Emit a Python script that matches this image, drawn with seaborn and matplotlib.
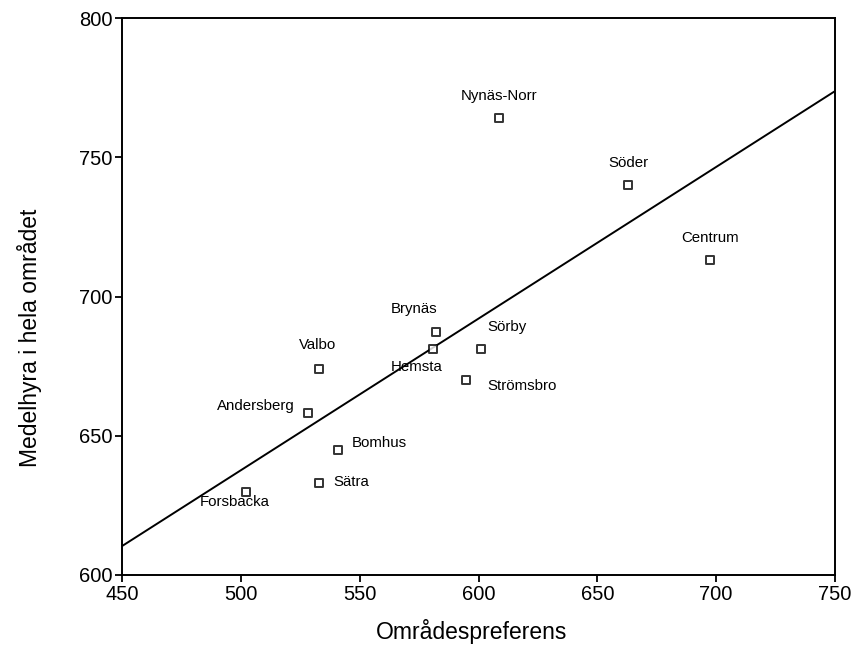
import matplotlib
matplotlib.use("Agg")
import matplotlib.pyplot as plt
import seaborn as sns
import pandas as pd

omraden = ["Nynäs-Norr", "Söder", "Centrum", "Brynäs", "Hemsta", "Sörby",
           "Strömsbro", "Valbo", "Andersberg", "Bomhus", "Sätra", "Forsbacka"]
preferens = [608.6, 662.9, 697.4, 582.1, 580.8, 601.0, 594.7, 532.9, 528.3, 540.9, 532.9, 502.2]
medelhyra = [764.1, 740.0, 713.1, 687.3, 681.1, 681.1, 670.0, 674.0, 658.2, 644.9, 633.0, 629.8]
x_ticks = [450, 500, 550, 600, 650, 700, 750]
y_ticks = [600, 650, 700, 750, 800]

# label offsets in pixels (dx, dy, ha)
label_pos = {
    "Nynäs-Norr": (0, 22, "center"),
    "Söder": (0, 22, "center"),
    "Centrum": (0, 22, "center"),
    "Brynäs": (-22, 23, "center"),
    "Hemsta": (-16, -18, "center"),
    "Sörby": (6, 22, "left"),
    "Strömsbro": (21, -6, "left"),
    "Valbo": (-1, 24, "center"),
    "Andersberg": (-13, 7, "right"),
    "Bomhus": (14, 7, "left"),
    "Sätra": (14, 1, "left"),
    "Forsbacka": (-11, -10, "center"),
}

df = pd.DataFrame({"omrade": omraden, "x": preferens, "y": medelhyra})

sns.set_style("white")
plt.rcParams["font.family"] = ["Liberation Sans", "DejaVu Sans"]

fig = plt.figure(figsize=(8.54, 6.5), dpi=100)
ax = fig.add_axes([122 / 854, 1 - 575 / 650, (835 - 122) / 854, (575 - 18) / 650])
ax.set_xlim(450, 750)
ax.set_ylim(600, 800)

sns.regplot(data=df, x="x", y="y", ax=ax, ci=None, truncate=False,
            marker="s",
            scatter_kws=dict(s=30, facecolors="white", edgecolors="black", linewidths=1.4, zorder=3),
            line_kws=dict(color="black", lw=1.4))

for name, xv, yv in zip(omraden, preferens, medelhyra):
    dx, dy, ha = label_pos[name]
    ax.annotate(name, (xv, yv), xytext=(dx, dy), textcoords="offset pixels",
                ha=ha, va="center", fontsize=10.8, color="black")

ax.set_xlim(450, 750)
ax.set_ylim(600, 800)
ax.set_xticks(x_ticks)
ax.set_yticks(y_ticks)
ax.tick_params(axis="both", direction="out", length=5, width=1.3, labelsize=14.5,
               bottom=True, left=True, color="black", labelcolor="black")
ax.tick_params(axis="x", pad=2)
ax.tick_params(axis="y", pad=2)
for sp in ax.spines.values():
    sp.set_color("black")
    sp.set_linewidth(1.4)
ax.set_xlabel("Områdespreferens", fontsize=16.5, color="black", va="center")
ax.set_ylabel("Medelhyra i hela området", fontsize=16.5, color="black", va="center")
ax.xaxis.set_label_coords((472 - 122) / 713, (575 - 632) / 557)
ax.yaxis.set_label_coords((30 - 122) / 713, (575 - 338) / 557)

fig.savefig("out.png", dpi=100)
